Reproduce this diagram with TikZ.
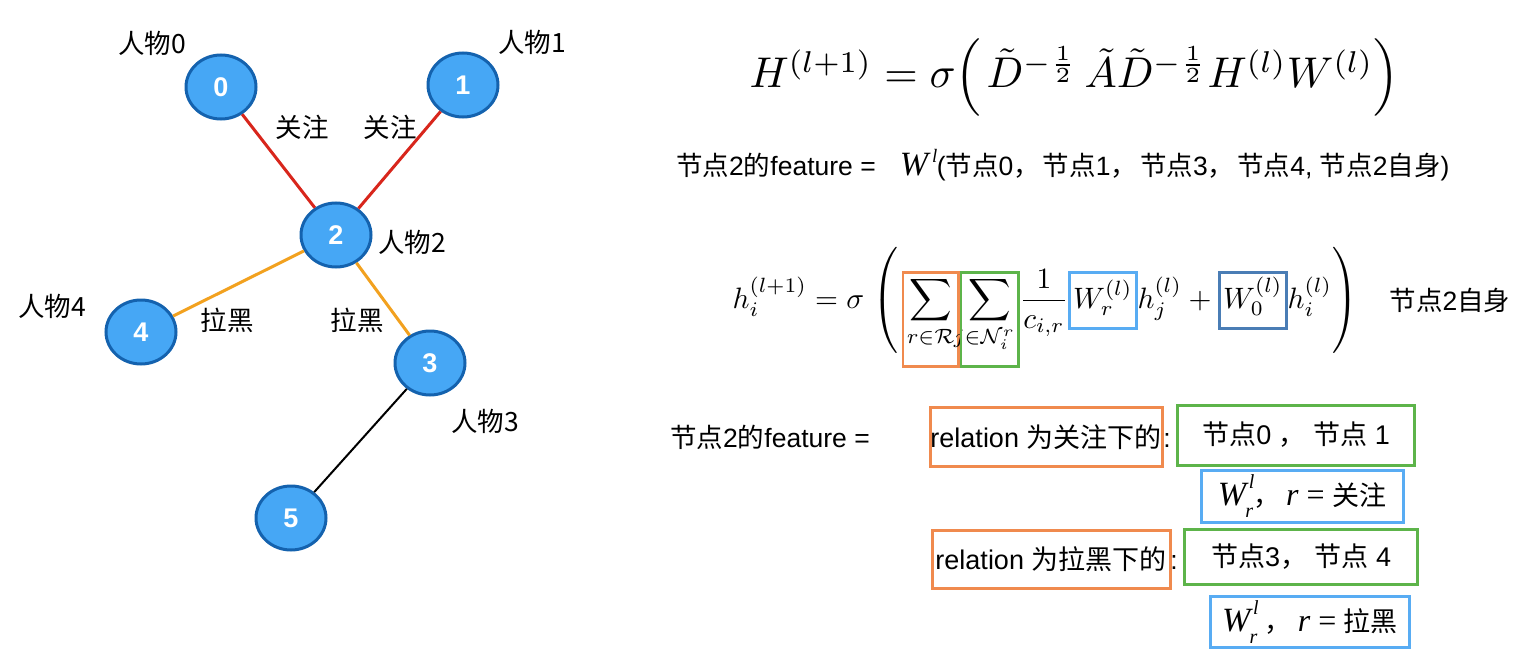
\documentclass[tikz,border=0pt]{standalone}
\usepackage{fix-cm}
\usepackage{amsmath}
\usepackage{mathtools}
\usepackage{fontspec}
\setmainfont{Liberation Sans}
\newfontfamily\cjk{Noto Sans CJK SC}
\newfontfamily\serif{Liberation Serif}
\usetikzlibrary{shapes.geometric}
\newcommand\zh[1]{{\cjk #1}}
% frame inside formula: colour, strut height, strut depth, content
\newcommand\frm[4]{{\color{#1}\fbox{\color{black}\vrule height #2 depth #3 width 0pt$\displaystyle #4$}}}
% delimiter of a chosen size: delimiter, height, depth
\newcommand\sizedparen[3]{{\nulldelimiterspace=0pt\left#1\vrule height #2 depth #3 width 0pt\right.}}
\newcommand\upsc[1]{\raisebox{0.48em}{\fontsize{19}{19}\selectfont #1}}
\newcommand\Wrl{{\serif\itshape W\rlap{\kern2.5pt\raisebox{0.5em}{\fontsize{20}{20}\selectfont l}}\kern-1pt\raisebox{-0.35em}{\fontsize{20}{20}\selectfont r}}}
\setlength\fboxsep{0.8pt}
\setlength\fboxrule{0.9pt}
\definecolor{nodefill}{HTML}{46A7F5}
\definecolor{nodeborder}{HTML}{1462AE}
\definecolor{edgered}{HTML}{D8261C}
\definecolor{edgeorange}{HTML}{F2A11F}
\definecolor{boxorange}{HTML}{F08A4E}
\definecolor{boxgreen}{HTML}{5DB44A}
\definecolor{boxblue}{HTML}{58ACF3}
\definecolor{boxsteel}{HTML}{4A7DB5}
\begin{document}
\begin{tikzpicture}[x=1pt,y=-1pt,
  person/.style={ellipse, draw=nodeborder, line width=3pt, fill=nodefill,
    minimum width=70pt, minimum height=64pt, inner sep=0pt,
    font=\fontsize{27}{27}\selectfont\bfseries, text=white},
  lbl/.style={font=\fontsize{26.5}{26.5}\selectfont\cjk, inner sep=0pt},
  txt/.style={font=\fontsize{26.5}{26.5}\selectfont, inner sep=0pt},
  fedge/.style={draw=edgered, line width=3pt},
  bedge/.style={draw=edgeorange, line width=3pt},
  pedge/.style={draw=black, line width=2pt},
  framebox/.style={rectangle, line width=3pt, inner sep=0pt, font=\fontsize{27}{27}\selectfont},
  obox/.style={framebox, draw=boxorange},
  gbox/.style={framebox, draw=boxgreen},
  bbox/.style={framebox, draw=boxblue}]
\useasboundingbox (0,0) rectangle (1530,650);

% graph
\node[person] (n0) at (221,87) {0};
\node[person] (n1) at (463,85) {1};
\node[person] (n2) at (336,235) {2};
\node[person] (n4) at (141,332) {4};
\node[person] (n3) at (430,363) {3};
\node[person] (n5) at (291,518) {5};

\draw[fedge] (n0) -- (n2);
\draw[fedge] (n1) -- (n2);
\draw[bedge] (n2) -- (n4);
\draw[bedge] (n2) -- (n3);
\draw[pedge] (n3) -- (n5);

\node[lbl] (p0) at (152,43) {人物0};
\node[lbl] (p1) at (532,42) {人物1};
\node[lbl] (p2) at (412,242) {人物2};
\node[lbl] (p4) at (52,306) {人物4};
\node[lbl] (p3) at (485,421) {人物3};

\node[lbl] (e0) at (302,127) {关注};
\node[lbl] (e1) at (390,127) {关注};
\node[lbl] (e4) at (227,320) {拉黑};
\node[lbl] (e3) at (357,320) {拉黑};

% formulas
\node[scale=4.3, inner sep=0pt, anchor=base] (f1) at (1077,88)
  {$H^{(l+1)} = \sigma\mathopen{\sizedparen({10pt}{5pt}}\tilde{D}^{-\frac{1}{2}}\,\tilde{A}\tilde{D}^{-\frac{1}{2}}H^{(l)}W^{(l)}\mathclose{\sizedparen){10pt}{5pt}}$};

\node[txt, anchor=west] (t1) at (676,165)
  {\zh{节点}2\zh{的}feature =\hspace{24pt}{\fontsize{34}{34}\selectfont\serif\itshape W}\kern4pt\upsc{\serif\itshape l}\kern-0.5pt(\zh{节点}0\zh{，}\hspace{3pt}\zh{节点}1\zh{，}\hspace{3pt}\zh{节点}3\zh{，}\hspace{3pt}\zh{节点}4, \zh{节点}2\zh{自身})};

\node[scale=2.95, inner sep=0pt, anchor=base] (f2) at (1047,308)
  {$\displaystyle h_i^{(l+1)} = \sigma\;\mathopen{\sizedparen({22pt}{17pt}}\frm{boxorange}{10.8pt}{18.5pt}{\sum_{r\in\mathcal{R}}}\frm{boxgreen}{10.8pt}{18.5pt}{\sum_{\mathllap{j}\in\mathcal{N}_i^r}}\frac{1}{c_{i,r}}\frm{boxblue}{10.8pt}{5.8pt}{W_r^{(l)}}h_j^{(l)} + \frm{boxsteel}{10.8pt}{5.8pt}{W_0^{(l)}}h_i^{(l)}\mathclose{\sizedparen){22pt}{17pt}}$};

\node[txt] (self) at (1450,300) {\zh{节点}2\zh{自身}};

% bottom
\node[txt, anchor=west] (t2) at (670,437) {\zh{节点}2\zh{的}feature =};

\node[obox, minimum width=232pt, minimum height=59pt] (o1) at (1046,437) {relation \zh{为关注下的}};
\node[txt] (c1) at (1167,440) {:};
\node[gbox, minimum width=237pt, minimum height=60pt] (g1) at (1296,435) {\zh{节点}0 \zh{，} \zh{节点} 1};
\node[bbox, minimum width=202pt, minimum height=52pt] (b1) at (1302,496)
  {{\fontsize{34}{34}\selectfont\Wrl}\zh{，}\hspace{6pt}{\fontsize{32}{32}\selectfont\serif\itshape r \upshape =} \zh{关注}};

\node[obox, minimum width=238pt, minimum height=58pt] (o2) at (1051,559) {relation \zh{为拉黑下的}};
\node[txt] (c2) at (1174,562) {:};
\node[gbox, minimum width=233pt, minimum height=55pt] (g2) at (1301,557) {\zh{节点}3\zh{，} \zh{节点} 4};
\node[bbox, minimum width=199pt, minimum height=51pt] (b2) at (1310,622)
  {{\fontsize{34}{34}\selectfont\Wrl} \zh{，}\hspace{6pt}{\fontsize{32}{32}\selectfont\serif\itshape r \upshape =} \zh{拉黑}};
\end{tikzpicture}
\end{document}
